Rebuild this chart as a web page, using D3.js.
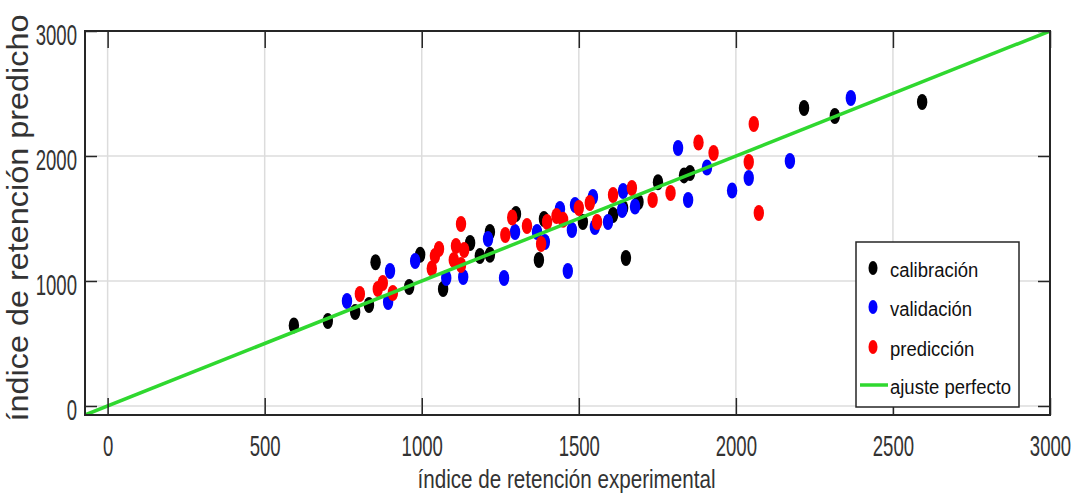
<!DOCTYPE html>
<html>
<head>
<meta charset="utf-8">
<script src="https://cdn.jsdelivr.net/npm/d3@7"></script>
<style>
  html, body { margin: 0; padding: 0; background: #fff; }
  svg { display: block; }
  text { font-family: "Liberation Sans", Arial, Helvetica, sans-serif; }
</style>
</head>
<body>
<svg id="chart" width="1073" height="504"></svg>
<script>
// ---- data (experimental RI, predicted RI) ----
const calibracionX = [593, 701, 788, 832, 853, 960, 995, 1068, 1154, 1185, 1217, 1217, 1300, 1373, 1389, 1513, 1609, 1641, 1690, 1650, 1752, 1835, 1854, 2217, 2315, 2593];
const calibracionY = [645, 680, 752, 808, 1150, 952, 1210, 936, 1304, 1200, 1392, 1210, 1536, 1168, 1496, 1472, 1528, 1584, 1632, 1184, 1790, 1845, 1864, 2384, 2320, 2432];

const validacionX = [762, 899, 893, 979, 1078, 1132, 1262, 1211, 1297, 1367, 1392, 1440, 1465, 1478, 1488, 1545, 1551, 1593, 1638, 1641, 1679, 1816, 1848, 1908, 1988, 2041, 2172, 2366];
const validacionY = [840, 1080, 832, 1160, 1024, 1032, 1024, 1336, 1392, 1392, 1312, 1576, 1080, 1408, 1608, 1672, 1432, 1472, 1568, 1720, 1596, 2064, 1648, 1908, 1724, 1824, 1960, 2464];

const prediccionX = [803, 860, 876, 908, 1032, 1042, 1055, 1125, 1109, 1102, 1135, 1125, 1266, 1288, 1335, 1380, 1399, 1429, 1450, 1500, 1535, 1558, 1609, 1669, 1735, 1792, 1881, 1929, 2057, 2041, 2073];
const prediccionY = [896, 936, 984, 904, 1100, 1200, 1256, 1456, 1280, 1168, 1248, 1128, 1368, 1508, 1440, 1296, 1472, 1520, 1490, 1584, 1624, 1472, 1688, 1744, 1648, 1704, 2108, 2024, 2256, 1952, 1544];

const perfectLine = [-72, 3000];
const axisDomain = [-72, 3000];
const xTicks = [0, 500, 1000, 1500, 2000, 2500, 3000];
const yTicks = [0, 1000, 2000, 3000];
const legendLabels = ["calibración", "validación", "predicción", "ajuste perfecto"];
const seriesColors = ["#000000", "#0000ff", "#ff0000"];
const xTitle = "índice de retención experimental";
const yTitle = "índice de retención predicho";

// ---- layout ----
const L = 85, R = 1050, T = 31, B = 415;
const svg = d3.select("#chart");
const x = d3.scaleLinear().domain(axisDomain).range([L, R]);
const y = d3.scaleLinear().domain(axisDomain).range([B, T]);
const axisColor = "#262626";
const labelColor = "#333333";

svg.append("defs").append("clipPath").attr("id", "plotclip")
  .append("rect").attr("x", L).attr("y", T).attr("width", R - L).attr("height", B - T);

// plot background
svg.append("rect").attr("x", L).attr("y", T).attr("width", R - L).attr("height", B - T).attr("fill", "#fff");

// grid
const grid = svg.append("g");
grid.selectAll("line.gx").data(xTicks).join("line")
  .attr("x1", d => x(d)).attr("x2", d => x(d)).attr("y1", T).attr("y2", B)
  .attr("stroke", "#dcdcdc").attr("stroke-width", 1.5);
grid.selectAll("line.gy").data(yTicks).join("line")
  .attr("y1", d => y(d)).attr("y2", d => y(d)).attr("x1", L).attr("x2", R)
  .attr("stroke", "#dcdcdc").attr("stroke-width", 1.5);

// points
const plot = svg.append("g").attr("clip-path", "url(#plotclip)");
const series = [
  { xs: calibracionX, ys: calibracionY, color: seriesColors[0] },
  { xs: validacionX, ys: validacionY, color: seriesColors[1] },
  { xs: prediccionX, ys: prediccionY, color: seriesColors[2] }
];
series.forEach(s => {
  plot.append("g").selectAll("ellipse").data(s.xs.map((v, i) => [v, s.ys[i]])).join("ellipse")
    .attr("cx", d => x(d[0])).attr("cy", d => y(d[1]))
    .attr("rx", 5.2).attr("ry", 8)
    .attr("fill", s.color);
});

// perfect fit line
plot.append("line")
  .attr("x1", x(perfectLine[0])).attr("y1", y(perfectLine[0]))
  .attr("x2", x(perfectLine[1])).attr("y2", y(perfectLine[1]))
  .attr("stroke", "#2fd82f").attr("stroke-width", 3.5);

// axes
function styleAxis(g) {
  g.select(".domain").remove();
  g.selectAll(".tick line").attr("stroke", axisColor).attr("stroke-width", 1.5);
}
const gx = svg.append("g").attr("transform", `translate(0,${B})`)
  .call(d3.axisBottom(x).tickValues(xTicks).tickSize(-17).tickFormat(d3.format("d")));
styleAxis(gx);
gx.selectAll(".tick text")
  .attr("y", null).attr("dy", null)
  .attr("transform", "translate(0,41) scale(0.64,1)")
  .attr("font-size", 29).attr("fill", labelColor).attr("font-family", null);

const gxTop = svg.append("g").attr("transform", `translate(0,${T})`)
  .call(d3.axisTop(x).tickValues(xTicks).tickSize(-17).tickFormat(""));
styleAxis(gxTop);

const gy = svg.append("g").attr("transform", `translate(${L},0)`)
  .call(d3.axisLeft(y).tickValues(yTicks).tickSize(-12).tickFormat(d3.format("d")));
styleAxis(gy);
gy.selectAll(".tick text")
  .attr("x", null).attr("dy", null)
  .attr("text-anchor", "end")
  .attr("transform", "translate(-8,13) scale(0.64,1)")
  .attr("font-size", 29).attr("fill", labelColor).attr("font-family", null);

const gyRight = svg.append("g").attr("transform", `translate(${R},0)`)
  .call(d3.axisRight(y).tickValues(yTicks).tickSize(-12).tickFormat(""));
styleAxis(gyRight);

// frame
svg.append("rect").attr("x", L).attr("y", T).attr("width", R - L).attr("height", B - T)
  .attr("fill", "none").attr("stroke", axisColor).attr("stroke-width", 2);

// axis titles
svg.append("text")
  .attr("transform", `translate(${(L + R) / 2 - 1},488) scale(0.825,1)`)
  .attr("text-anchor", "middle").attr("font-size", 25).attr("fill", labelColor)
  .text(xTitle);
svg.append("text")
  .attr("transform", "translate(28,218) rotate(-90) scale(1.08,0.97)")
  .attr("text-anchor", "middle").attr("font-size", 30).attr("fill", labelColor)
  .text(yTitle);

// legend
const lg = svg.append("g");
lg.append("rect").attr("x", 856).attr("y", 242).attr("width", 163).attr("height", 165)
  .attr("fill", "#fff").attr("stroke", axisColor).attr("stroke-width", 1.5);
const rowY = [268, 307, 347, 385];
legendLabels.forEach((lab, i) => {
  if (i < 3) {
    lg.append("ellipse").attr("cx", 873).attr("cy", rowY[i]).attr("rx", 4.5).attr("ry", 7)
      .attr("fill", seriesColors[i]);
  } else {
    lg.append("line").attr("x1", 860).attr("x2", 888).attr("y1", rowY[i]).attr("y2", rowY[i])
      .attr("stroke", "#2fd82f").attr("stroke-width", 3.5);
  }
  lg.append("text")
    .attr("transform", `translate(890,${rowY[i] + 9}) scale(0.88,1)`)
    .attr("font-size", 21).attr("fill", "#111")
    .text(lab);
});
</script>
</body>
</html>
